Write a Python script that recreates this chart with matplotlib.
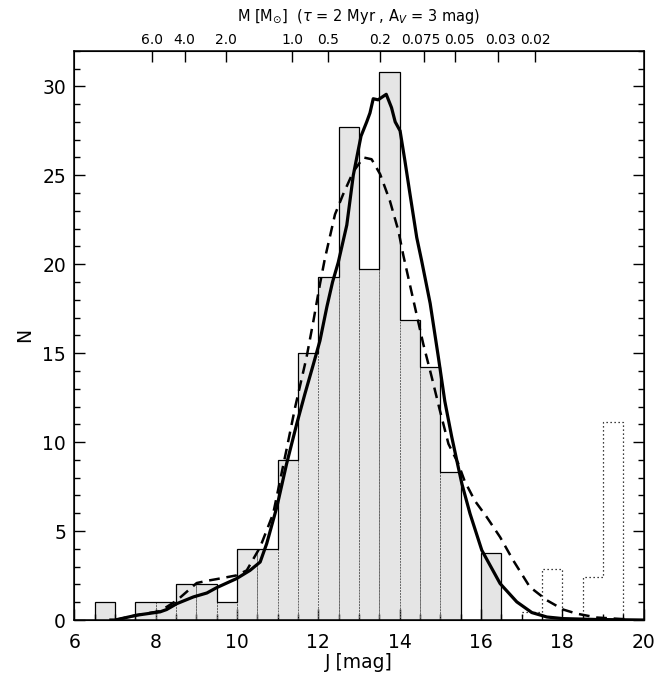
import matplotlib
matplotlib.use("Agg")
import matplotlib.pyplot as plt
import matplotlib.transforms as mtransforms
from matplotlib.ticker import MultipleLocator

# ---------------- data ----------------
# solid (observed) histogram: bin left edges [J mag] and counts
bin_left = [6.0, 6.5, 7.0, 7.5, 8.0, 8.5, 9.0, 9.5, 10.0, 10.5, 11.0,
            11.5, 12.0, 12.5, 13.0, 13.5, 14.0, 14.5, 15.0, 15.5, 16.0, 16.5]
counts = [0, 1, 0, 1, 1, 2, 2, 1, 4, 4, 9,
          15, 19.3, 27.7, 19.75, 30.8, 16.85, 14.2, 8.3, 0, 3.75, 0]

# dotted (faint tail) histogram
tail_left = [17.0, 17.5, 18.0, 18.5, 19.0, 19.5]
tail_counts = [0.45, 2.85, 0, 2.42, 11.14, 0]
bin_width = 0.5

# solid model curve
solid_J = [6.9, 7.0, 7.53, 8.11, 8.27, 8.52, 8.93, 9.26, 9.50, 9.99, 10.32,
           10.57, 10.73, 10.98, 11.22, 11.47, 11.67, 11.88, 12.04, 12.21,
           12.35, 12.49, 12.70, 12.86, 12.98, 13.05, 13.19, 13.27, 13.35,
           13.47, 13.67, 13.80, 13.89, 14.01, 14.13, 14.25, 14.42, 14.54,
           14.75, 14.95, 15.11, 15.28, 15.44, 15.53, 15.73, 16.02, 16.47,
           16.88, 17.25, 17.62, 18.02, 18.85, 20.0]
solid_N = [0.0, 0.0, 0.27, 0.46, 0.59, 0.92, 1.30, 1.52, 1.82, 2.33, 2.79,
           3.26, 4.29, 6.35, 8.78, 11.03, 12.71, 14.39, 15.70, 17.6,
           19.0, 20.1, 22.2, 25.0, 26.4, 27.2, 28.0, 28.5, 29.3,
           29.24, 29.55, 28.8, 28.0, 27.5, 25.8, 24.0, 21.5, 20.2,
           17.8, 14.8, 12.3, 10.3, 8.6, 7.66, 5.98, 3.92, 2.05,
           1.02, 0.42, 0.17, 0.08, 0.03, 0.0]

# dashed model curve
dash_J = [7.0, 7.53, 8.11, 8.52, 9.01, 9.25, 9.50, 9.99, 10.24, 10.57, 10.89,
          11.22, 11.43, 11.71, 11.88, 12.04, 12.16, 12.41, 12.61, 12.86,
          13.11, 13.31, 13.52, 13.76, 13.97, 14.09, 14.34, 14.58, 14.79,
          14.99, 15.2, 15.44, 15.6, 15.85, 16.14, 16.47, 16.79, 17.2, 17.62,
          18.02, 18.35, 18.85, 19.66]
dash_N = [0.0, 0.27, 0.5, 1.1, 2.08, 2.2, 2.3, 2.51, 2.79, 4.10, 5.98,
          9.6, 11.96, 14.76, 16.82, 18.88, 20.3, 22.8, 23.93, 25.2,
          26.0, 25.9, 25.06, 23.56, 21.87, 20.5, 17.95, 15.52, 13.64,
          11.77, 9.9, 8.8, 7.8, 6.7, 5.79, 4.66, 3.36, 1.86, 1.11,
          0.59, 0.36, 0.14, 0.03]

# top mass axis
mass_J = [7.91, 8.71, 9.73, 11.36, 12.24, 13.51, 14.61, 15.35, 16.43, 17.33]
mass_labels = ["6.0", "4.0", "2.0", "1.0", "0.5", "0.2", "0.075", "0.05", "0.03", "0.02"]

# ---------------- plot ----------------
plt.rcParams['font.family'] = ['DejaVu Sans']

fig = plt.figure(figsize=(6.61, 6.78), dpi=100)
ax = fig.add_axes([0.1124, 0.0855, 0.8614, 0.8397])

edges = bin_left + [bin_left[-1] + bin_width]
tail_edges = tail_left + [tail_left[-1] + bin_width]

ax.stairs(counts, edges, fill=True, color="#e5e5e5", zorder=1)
ax.bar(bin_left, counts, width=bin_width, align='edge', facecolor='none',
       edgecolor='#666666', linewidth=0.7, linestyle=(0, (1.5, 1.5)), zorder=2)
ax.stairs(counts, edges, baseline=0, color='black', linewidth=0.9, zorder=3)
ax.stairs(tail_counts, tail_edges, baseline=0, color='black', linewidth=0.9,
          linestyle=(0, (1.0, 2.2)), zorder=3)

ax.plot(dash_J, dash_N, color='black', linewidth=1.8, linestyle=(0, (4.3, 2.7)), zorder=4)
ax.plot(solid_J, solid_N, color='black', linewidth=2.3, zorder=5)

ax.set_xlim(6, 20)
ax.set_ylim(0, 32)
ax.xaxis.set_major_locator(MultipleLocator(2))
ax.xaxis.set_minor_locator(MultipleLocator(0.5))
ax.yaxis.set_major_locator(MultipleLocator(5))
ax.yaxis.set_minor_locator(MultipleLocator(1))
ax.tick_params(which='both', direction='in', top=False, right=True,
               labelsize=13.5, width=1.0)
ax.tick_params(which='major', length=8)
ax.tick_params(which='minor', length=4)
ax.tick_params(axis='x', which='major', pad=9)
ax.tick_params(axis='y', which='major', pad=6)
for s in ax.spines.values():
    s.set_linewidth(1.1)

ax.set_xlabel("J [mag]", fontsize=13.5, labelpad=1)
ax.set_ylabel("N", fontsize=13.5, labelpad=6)

ax2 = ax.twiny()
ax2.set_xlim(ax.get_xlim())
ax2.set_xticks(mass_J)
ax2.set_xticklabels(mass_labels, fontsize=10)
ax2.xaxis.set_minor_locator(plt.NullLocator())
ax2.tick_params(axis='x', direction='in', length=8, width=1.0, pad=3)
# nudge the two crowded labels apart
shifts = {"0.075": -3.5, "0.05": 4.5, "0.03": 2.0}
for lab in ax2.get_xticklabels():
    dx = shifts.get(lab.get_text(), 0.0)
    if dx:
        lab.set_transform(lab.get_transform() +
                          mtransforms.ScaledTranslation(dx / 100.0, 0, fig.dpi_scale_trans))
ax2.set_title(r"M [M$_{\odot}$]  ($\tau$ = 2 Myr , A$_V$ = 3 mag)", fontsize=10.5, pad=8)

fig.savefig("out.png", dpi=100)
